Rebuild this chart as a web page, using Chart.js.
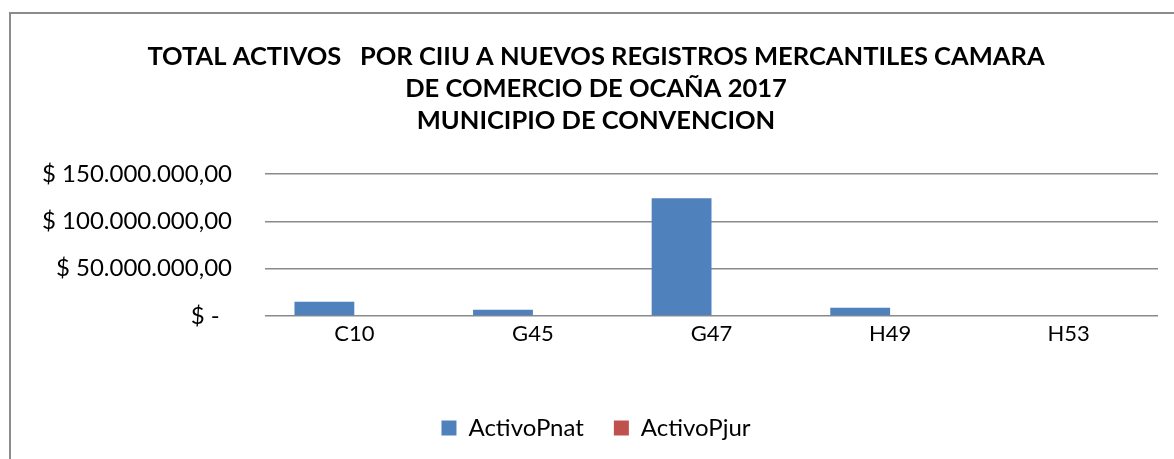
<!DOCTYPE html>
<html lang="es">
<head>
    <meta charset="UTF-8">
    <title>Total activos por CIIU</title>
    <script src="https://cdn.jsdelivr.net/npm/chart.js"></script>
    <style>
        body { margin: 0; background: #fff; }
        .frame {
            position: absolute; left: 9px; top: 12px; width: 1200px; height: 500px;
            border-left: 2px solid #8c8c8c; border-top: 2px solid #8c8c8c;
        }
        #chart { position: absolute; left: 0; top: 0; }
    </style>
</head>
<body>
    <div class="frame"></div>
    <canvas id="chart" width="1174" height="459"></canvas>
    <script>
        // datos
        const categorias = ['C10', 'G45', 'G47', 'H49', 'H53'];
        const activoPnat = [15100000, 6700000, 124300000, 8800000, 0];
        const activoPjur = [0, 0, 0, 0, 0];
        const tituloLineas = [
            'TOTAL ACTIVOS   POR CIIU A NUEVOS REGISTROS MERCANTILES CAMARA',
            'DE COMERCIO DE OCAÑA 2017',
            'MUNICIPIO DE CONVENCION'
        ];

        function formatoPesos(v) {
            if (v === 0) return '$ -  ';
            const entero = Math.round(v).toString().replace(/\B(?=(\d{3})+(?!\d))/g, '.');
            return '$ ' + entero + ',00';
        }

        const ctx = document.getElementById('chart').getContext('2d');
        new Chart(ctx, {
            type: 'bar',
            data: {
                labels: categorias,
                datasets: [
                    { label: 'ActivoPnat', data: activoPnat, backgroundColor: '#4f81bd' },
                    { label: 'ActivoPjur', data: activoPjur, backgroundColor: '#c0504d' }
                ]
            },
            options: {
                responsive: false,
                animation: false,
                categoryPercentage: 0.67,
                barPercentage: 1,
                layout: { padding: { left: 34, right: 16, top: 0, bottom: 9 } },
                plugins: {
                    title: {
                        display: true,
                        text: tituloLineas,
                        color: '#000',
                        font: { family: 'Lato', size: 25.5, weight: 'bold', lineHeight: 1.255 },
                        padding: { top: 41, bottom: 37 }
                    },
                    legend: {
                        position: 'bottom',
                        labels: {
                            color: '#000',
                            font: { family: 'Lato', size: 24 },
                            boxWidth: 15,
                            boxHeight: 15,
                            padding: 30
                        }
                    },
                    tooltip: { enabled: false }
                },
                scales: {
                    x: {
                        grid: { display: false, drawTicks: false },
                        border: { display: false },
                        afterFit: (scale) => { scale.height = 70; },
                        ticks: { color: '#000', font: { family: 'Lato', size: 22 }, padding: 5 }
                    },
                    y: {
                        min: 0,
                        max: 150000000,
                        border: { display: false },
                        grid: { color: '#8a8a8a', lineWidth: 1.5, drawTicks: false },
                        afterFit: (scale) => { scale.width = 231; },
                        ticks: {
                            stepSize: 50000000,
                            color: '#000',
                            font: { family: 'Lato', size: 24 },
                            padding: 33,
                            callback: (v) => formatoPesos(v)
                        }
                    }
                }
            }
        });
    </script>
</body>
</html>
